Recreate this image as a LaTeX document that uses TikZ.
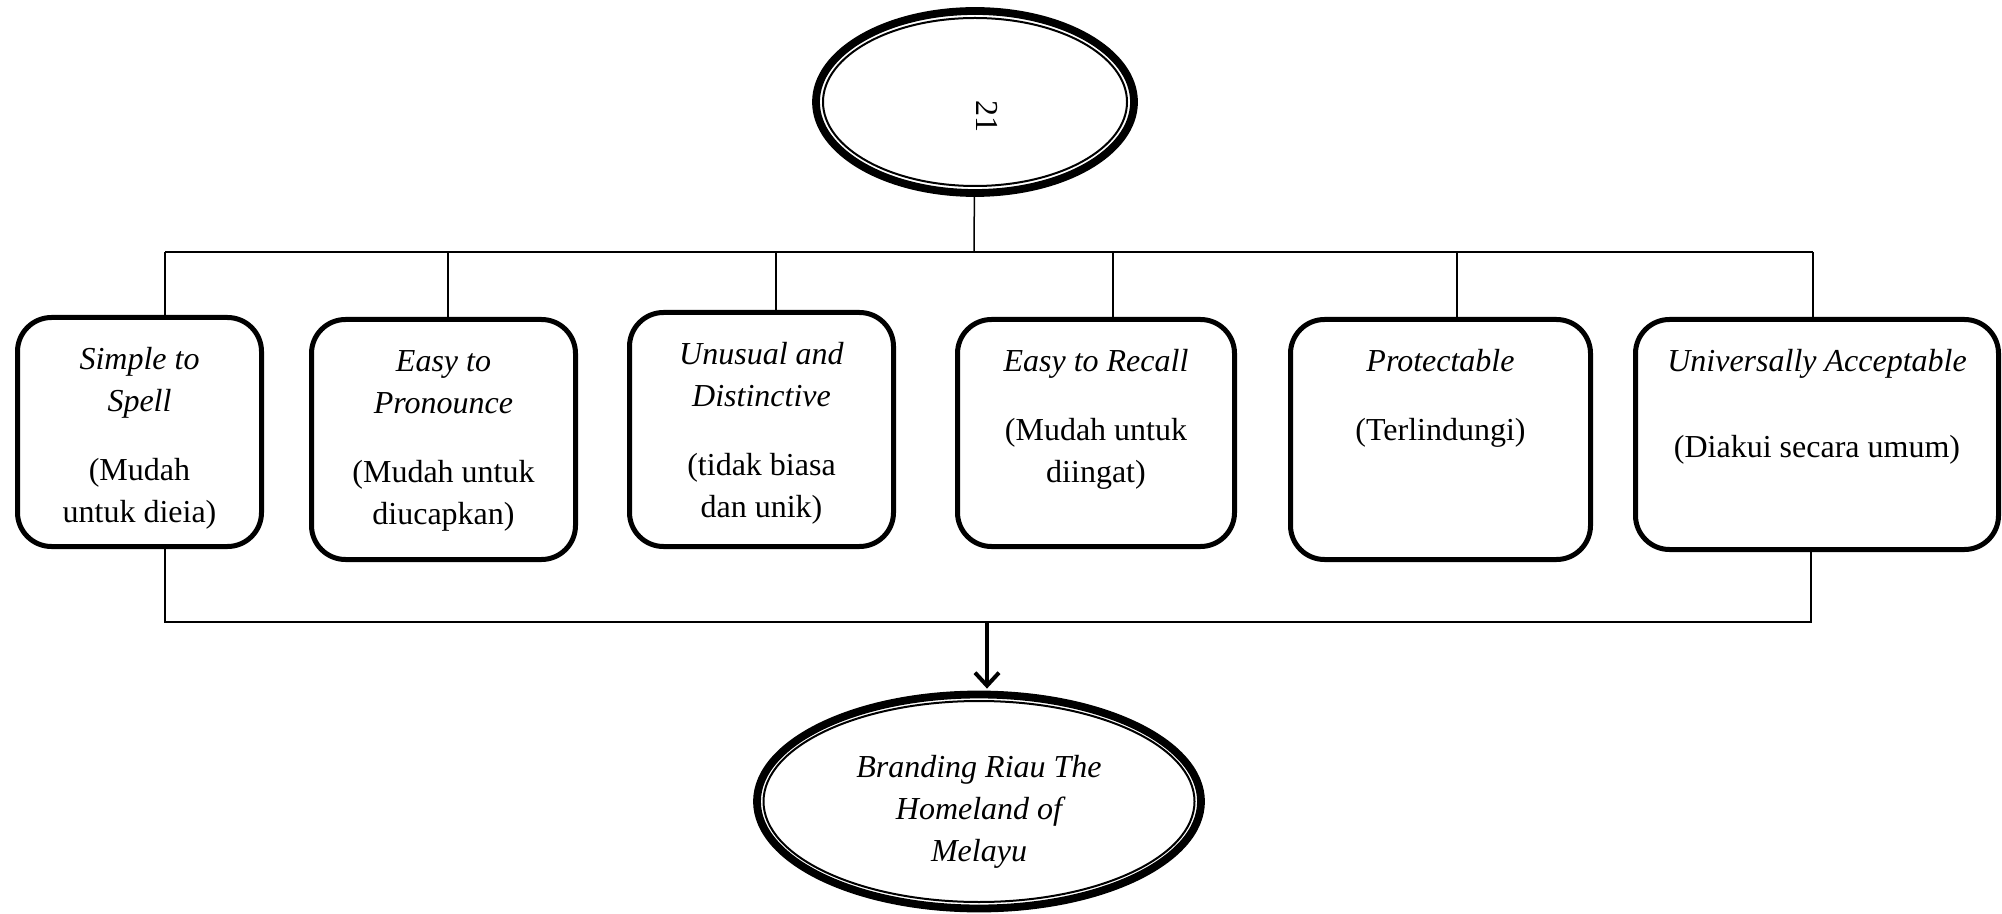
\documentclass[tikz,border=0pt]{standalone}
\usepackage{fontspec}
\setmainfont{Liberation Serif}
\usetikzlibrary{shapes.geometric,arrows.meta}

\newcommand{\cardtext}[3]{\parbox[c][#2][t]{#1}{\centering\vspace*{11.3pt}\strut#3}}

\begin{document}
\begin{tikzpicture}[x=.5pt,y=-.5pt,
    txt/.style={font=\fontsize{16}{21}\selectfont},
    card/.style={txt,draw,line width=2.5pt,rounded corners=17pt,inner sep=0},
    oval/.style={txt,ellipse,draw,line width=3.9pt,inner sep=0,align=center},
    ring/.style={line width=1pt},
    link/.style={line width=.75pt},
    flow/.style={line width=2pt,-{Straight Barb[length=6.5pt,width=12pt]},shorten >=1pt}]
  \useasboundingbox (0,0) rectangle (2002,914);

  \node[oval,minimum width=159pt,minimum height=91pt] (source) at (975,102) {};
  \draw[ring] (source.center) ellipse [x radius=76pt,y radius=42pt];
  \node[txt,rotate=-90,inner sep=0] (pagenum) at (987,116.5) {21};

  \node[card] (spell) at (139.5,432)
    {\cardtext{122pt}{114.5pt}{\textit{Simple to}\\\textit{Spell}\\[13.5pt](Mudah\\untuk dieia)}};
  \node[card] (pronounce) at (443.5,439.5)
    {\cardtext{132pt}{120pt}{\textit{Easy to}\\\textit{Pronounce}\\[13.5pt](Mudah untuk\\diucapkan)}};
  \node[card] (distinct) at (761.5,429.5)
    {\cardtext{132pt}{117pt}{\textit{Unusual and}\\\textit{Distinctive}\\[13.5pt](tidak biasa\\dan unik)}};
  \node[card] (recall) at (1096,433)
    {\cardtext{138.5pt}{113.5pt}{\textit{Easy to Recall}\\[13.5pt](Mudah untuk\\diingat)}};
  \node[card] (protect) at (1440.5,439.5)
    {\cardtext{150pt}{120pt}{\textit{Protectable}\\[13.5pt](Terlindungi)}};
  \node[card] (accept) at (1817,434.5)
    {\cardtext{181.5pt}{115pt}{\textit{Universally Acceptable}\\[22pt](Diakui secara umum)}};

  \node[oval,minimum width=222pt,minimum height=107pt] (branding) at (979,801.5)
    {\rule{0pt}{21pt}\itshape Branding Riau The\\\itshape Homeland of\\\itshape Melayu};
  \draw[ring] (branding.center) ellipse [x radius=107.75pt,y radius=50.25pt];

  % upper bus
  \coordinate (hub) at (974,252);
  \foreach \n/\x in {spell/165,pronounce/448,distinct/776,recall/1113,protect/1457,accept/1813}
    \coordinate (t-\n) at (\x,252);
  \draw[link] (source) -- (hub);
  \draw[line width=1pt] (t-spell) -- (t-accept);
  \foreach \n in {spell,pronounce,distinct,recall,protect,accept}
    \draw[link] (t-\n) -- (t-\n |- \n.north);

  % lower bus
  \coordinate (j-spell) at (165,622);
  \coordinate (j-accept) at (1811,622);
  \coordinate (merge) at (987,622);
  \draw[link] (spell.south -| j-spell) -- (j-spell) -- (j-accept) -- (accept.south -| j-accept);
  \draw[flow] (merge) -- (merge |- branding.north);
\end{tikzpicture}
\end{document}
